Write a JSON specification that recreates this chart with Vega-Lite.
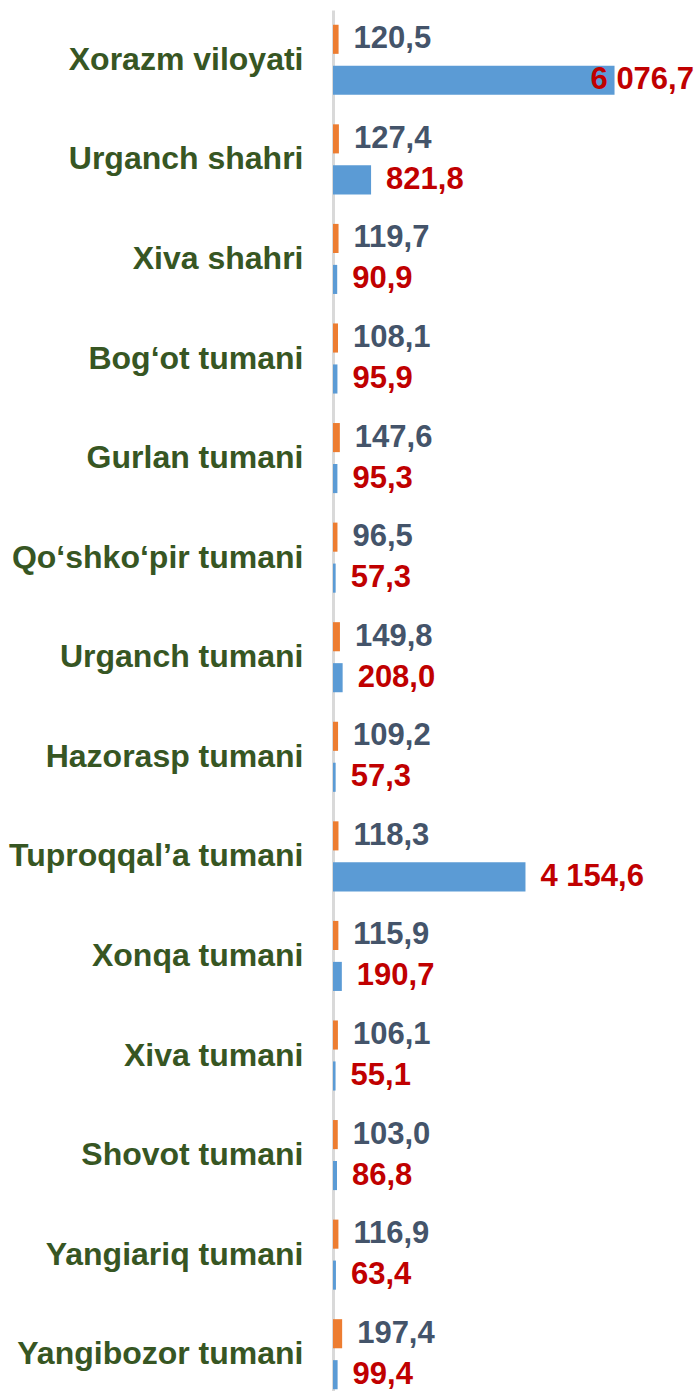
{
  "$schema": "https://vega.github.io/schema/vega-lite/v6.json",
  "width": 366,
  "height": 1381,
  "autosize": {"type": "none"},
  "padding": {"left": 333, "top": 10, "right": 0, "bottom": 0},
  "background": "white",
  "config": {
    "view": {"stroke": null},
    "locale": {"number": {"decimal": ",", "thousands": " ", "grouping": [3], "currency": ["", ""]}}
  },
  "data": {"values": [
    {"cat": "Xorazm viloyati", "series": "a", "value": 120.5},
    {"cat": "Xorazm viloyati", "series": "b", "value": 6076.7},
    {"cat": "Urganch shahri", "series": "a", "value": 127.4},
    {"cat": "Urganch shahri", "series": "b", "value": 821.8},
    {"cat": "Xiva shahri", "series": "a", "value": 119.7},
    {"cat": "Xiva shahri", "series": "b", "value": 90.9},
    {"cat": "Bog‘ot tumani", "series": "a", "value": 108.1},
    {"cat": "Bog‘ot tumani", "series": "b", "value": 95.9},
    {"cat": "Gurlan tumani", "series": "a", "value": 147.6},
    {"cat": "Gurlan tumani", "series": "b", "value": 95.3},
    {"cat": "Qo‘shko‘pir tumani", "series": "a", "value": 96.5},
    {"cat": "Qo‘shko‘pir tumani", "series": "b", "value": 57.3},
    {"cat": "Urganch tumani", "series": "a", "value": 149.8},
    {"cat": "Urganch tumani", "series": "b", "value": 208.0},
    {"cat": "Hazorasp tumani", "series": "a", "value": 109.2},
    {"cat": "Hazorasp tumani", "series": "b", "value": 57.3},
    {"cat": "Tuproqqal’a tumani", "series": "a", "value": 118.3},
    {"cat": "Tuproqqal’a tumani", "series": "b", "value": 4154.6},
    {"cat": "Xonqa tumani", "series": "a", "value": 115.9},
    {"cat": "Xonqa tumani", "series": "b", "value": 190.7},
    {"cat": "Xiva tumani", "series": "a", "value": 106.1},
    {"cat": "Xiva tumani", "series": "b", "value": 55.1},
    {"cat": "Shovot tumani", "series": "a", "value": 103.0},
    {"cat": "Shovot tumani", "series": "b", "value": 86.8},
    {"cat": "Yangiariq tumani", "series": "a", "value": 116.9},
    {"cat": "Yangiariq tumani", "series": "b", "value": 63.4},
    {"cat": "Yangibozor tumani", "series": "a", "value": 197.4},
    {"cat": "Yangibozor tumani", "series": "b", "value": 99.4}
  ]},
  "encoding": {
    "y": {
      "field": "cat", "type": "nominal", "sort": null,
      "scale": {"range": [0, 1394], "paddingInner": 0, "paddingOuter": 0},
      "axis": {
        "title": null, "ticks": false,
        "domainColor": "#D9D9D9", "domainWidth": 3,
        "labelFont": "Liberation Sans", "labelFontWeight": "bold", "labelFontSize": 32,
        "labelColor": "#375623", "labelPadding": 30, "labelLimit": 400
      }
    },
    "yOffset": {
      "field": "series", "type": "nominal",
      "scale": {"paddingInner": 0.29, "paddingOuter": 0.36}
    },
    "x": {
      "field": "value", "type": "quantitative",
      "scale": {"domain": [0, 7900], "nice": false, "zero": true},
      "axis": null
    }
  },
  "layer": [
    {
      "mark": {"type": "bar"},
      "encoding": {
        "color": {
          "field": "series", "type": "nominal",
          "scale": {"domain": ["a", "b"], "range": ["#ED7D31", "#5B9BD5"]},
          "legend": null
        }
      }
    },
    {
      "transform": [{"filter": "datum.value < 5000"}],
      "mark": {"type": "text", "align": "left", "baseline": "middle", "dx": 15, "font": "Liberation Sans", "fontWeight": "bold", "fontSize": 31},
      "encoding": {
        "text": {"field": "value", "type": "quantitative", "format": ",.1f"},
        "color": {
          "field": "series", "type": "nominal",
          "scale": {"domain": ["a", "b"], "range": ["#44546A", "#C00000"]},
          "legend": null
        }
      }
    },
    {
      "transform": [{"filter": "datum.value >= 5000"}],
      "mark": {"type": "text", "align": "left", "baseline": "middle", "dx": -24, "font": "Liberation Sans", "fontWeight": "bold", "fontSize": 31, "color": "#C00000"},
      "encoding": {
        "text": {"field": "value", "type": "quantitative", "format": ",.1f"}
      }
    }
  ],
  "resolve": {"scale": {"color": "independent"}}
}
